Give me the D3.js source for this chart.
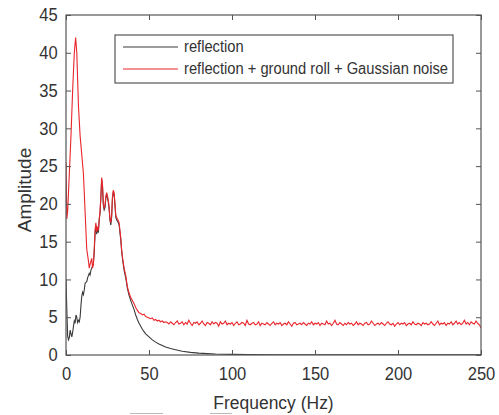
<!DOCTYPE html>
<html>
<head>
<meta charset="utf-8">
<script src="https://cdn.jsdelivr.net/npm/d3@7"></script>
<style>
  html, body { margin: 0; padding: 0; background: #fff; }
  svg { display: block; }
</style>
</head>
<body>
<svg id="chart" width="499" height="415"></svg>
<script>
// ---- data ----
const xTicks = [0, 50, 100, 150, 200, 250];
const yTicks = [0, 5, 10, 15, 20, 25, 30, 35, 40, 45];
const seriesNames = ["reflection", "reflection + ground roll + Gaussian noise"];

// reflection (black) : frequency (Hz) / amplitude
const reflFreq = [0,0.5,1,1.5,2,2.5,3,3.5,4,4.5,5,5.5,6,6.5,7,7.5,8,8.5,9,9.5,10,10.5,11,11.5,12,12.5,13,13.5,14,14.5,15,15.5,16,16.5,
  17,17.5,18,18.5,19,19.5,20,20.5,21,21.5,22,22.5,23,23.5,24,24.5,25,25.5,26,26.5,27,27.5,28,28.5,29,29.5,30,30.5,31,31.5,32,32.5,33,33.5,34,35,36,37,38,39,40,41,42,43,44,45,46,47,48,49,50,52,54,56,58,60,63,66,70,75,80,85,90,100,110,125,150,200,250];
const reflAmp = [10,6,2.5,2.0,2.3,3.3,2.8,2.4,3.0,3.8,4.5,4.2,5.3,5.0,4.3,4.6,4.4,5.0,6.5,7.8,8.3,8.0,8.6,9.5,9.6,9.7,10.2,10.5,10.8,10.6,11.2,11.5,11.8,12.2,
  13.5,16,17.2,16,16.8,16.2,17.8,18.8,20.8,23.2,22.2,19.8,19.2,19.5,20.8,21.3,20.8,20.2,19.2,17.8,17.2,18.2,20.8,21.5,21.2,19.8,18.2,17.9,17.7,17.5,17.2,16.2,15.2,13.8,12.8,11.2,10.2,8.8,7.9,7.2,6.6,6.0,5.3,4.7,4.2,3.8,3.4,3.1,2.8,2.6,2.4,2.0,1.7,1.45,1.25,1.05,0.85,0.7,0.5,0.35,0.25,0.18,0.13,0.08,0.05,0.03,0.02,0.01,0.01];

// noisy (red) low-frequency part : frequency (Hz) / amplitude
const noisyLowFreq = [0,0.5,1,2,3,4,5,5.8,6.5,7.5,8.5,9.5,10.5,11.5,12.5,13.5,14,14.5,15.5,16,16.5,17,17.5,18,18.5,19,19.5,20,20.5,21,21.5,22,22.5,23,23.5,24,24.5,25,25.5,26,26.5,27,27.5,28,28.5,29,29.5,30,30.5,31,31.5,32,32.5,33,33.5,34,35,36,37,38,39,40,41,42,43,44,45,46,47,48,49,50,51,52,53,54,55,56,57,58,59,60];
const noisyLowAmp = [25.5,18,19,24,29,35,40,42,40,33,29,26.5,24,19,14,12.5,11.5,12,12.8,11.5,12,14,16.5,17.5,16.3,17,16.5,18,19,21,23.5,22.5,20,19.5,19.8,21,21.5,21,20.5,19.5,18,17.5,18.5,21,21.8,21.5,20,18.5,18.2,18,17.8,17.5,16.5,15.5,14,13,11.5,10.5,9,8.2,7.6,7.2,6.8,6.3,5.9,5.6,5.5,5.3,5.4,5.1,5.0,4.9,4.8,4.9,4.6,4.7,4.5,4.6,4.4,4.5,4.3,4.4];
// noisy (red) noise floor : amplitudes at 1 Hz steps from 61 to 250 Hz
const noisyFloorStart = 61;
const noisyFloorAmp = [
  4.3,4.1,4.4,4.2,4.0,4.3,4.5,4.1,4.2,4.4,
  4.0,4.3,4.1,4.6,4.2,3.9,4.3,4.2,4.4,4.0,
  4.2,4.5,4.1,3.9,4.3,4.2,4.0,4.4,4.1,4.3,
  4.2,3.8,4.4,4.1,4.2,4.5,4.0,4.2,4.1,4.3,
  3.9,4.2,4.4,4.0,4.1,4.3,4.2,3.9,4.6,4.1,
  4.0,4.2,4.3,4.0,4.1,4.4,3.9,4.2,4.1,4.0,
  4.3,4.1,3.9,4.2,4.4,4.0,4.2,4.1,4.3,3.9,
  4.1,4.2,4.0,4.4,4.1,3.8,4.2,4.3,4.0,4.1,
  4.2,4.0,4.3,4.1,3.9,4.2,4.1,4.4,4.0,4.2,
  4.1,4.3,3.9,4.2,4.1,4.0,4.5,4.1,4.2,3.9,
  4.2,4.6,4.1,4.0,4.3,4.1,3.9,4.2,4.0,4.3,
  4.1,4.2,3.9,4.1,4.4,4.0,4.2,4.1,3.9,4.2,
  4.3,4.0,4.1,4.5,4.2,3.9,4.1,4.2,4.0,4.3,
  4.1,3.9,4.2,4.4,4.1,4.0,4.2,3.8,4.1,4.3,
  4.0,4.2,4.1,4.3,3.9,4.1,4.2,4.0,4.4,4.1,
  4.0,4.2,4.1,3.9,4.3,4.1,4.2,4.0,4.1,4.4,
  4.1,3.9,4.2,4.5,4.0,4.2,4.1,4.3,3.9,4.2,
  4.1,4.4,4.0,4.2,4.5,4.1,4.3,4.0,4.2,4.6,
  4.1,4.3,4.0,4.4,4.2,4.1,4.5,4.2,4.0,3.6
];

// ---- layout ----
const svg = d3.select("#chart");
const L = 66, R = 481, T = 15, B = 355;
const x = d3.scaleLinear().domain([0, 250]).range([L, R]);
const y = d3.scaleLinear().domain([0, 45]).range([B, T]);
const axisColor = "#555";
const textColor = "#333";
const font = "'Liberation Sans', Arial, Helvetica, sans-serif";

const refl = reflFreq.map((f, i) => [f, reflAmp[i]]);
const noisy = noisyLowFreq.map((f, i) => [f, noisyLowAmp[i]])
  .concat(noisyFloorAmp.map((a, i) => [noisyFloorStart + i, a]));

const line = d3.line().x(d => x(d[0])).y(d => y(d[1]));

svg.append("clipPath").attr("id", "clip").append("rect")
  .attr("x", L).attr("y", T).attr("width", R - L).attr("height", B - T);

const plot = svg.append("g").attr("clip-path", "url(#clip)");
plot.append("path").datum(refl).attr("d", line)
  .attr("fill", "none").attr("stroke", "#3a3a3a").attr("stroke-width", 1.1);
plot.append("path").datum(noisy).attr("d", line)
  .attr("fill", "none").attr("stroke", "#e8262c").attr("stroke-width", 1.1);

// axes
function styleAxis(g) {
  g.select(".domain").remove();
  g.selectAll("line").attr("stroke", axisColor);
  g.selectAll("text").attr("fill", textColor).attr("font-family", font).attr("font-size", 18);
}
const xAxis = svg.append("g").attr("transform", `translate(0,${B})`)
  .call(d3.axisBottom(x).tickValues(xTicks).tickSizeInner(-5).tickSizeOuter(0).tickPadding(12).tickFormat(d3.format("d")))
  .call(styleAxis);
xAxis.selectAll("text").attr("transform", "scale(0.92,1)");
svg.append("g").attr("transform", `translate(0,${T})`)
  .call(d3.axisTop(x).tickValues(xTicks).tickSizeInner(-5).tickSizeOuter(0).tickFormat(""))
  .call(styleAxis);
const yAxis = svg.append("g").attr("transform", `translate(${L},0)`)
  .call(d3.axisLeft(y).tickValues(yTicks).tickSizeInner(-5).tickSizeOuter(0).tickPadding(9).tickFormat(d3.format("d")))
  .call(styleAxis);
yAxis.selectAll("text").attr("transform", "scale(0.92,1)");
svg.append("g").attr("transform", `translate(${R},0)`)
  .call(d3.axisRight(y).tickValues(yTicks).tickSizeInner(-5).tickSizeOuter(0).tickFormat(""))
  .call(styleAxis);

// box
svg.append("rect").attr("x", L).attr("y", T).attr("width", R - L).attr("height", B - T)
  .attr("fill", "none").attr("stroke", axisColor).attr("stroke-width", 1.2);

// axis labels
svg.append("text").attr("x", (L + R) / 2 / 0.92).attr("y", 409)
  .attr("transform", "scale(0.92,1)")
  .attr("text-anchor", "middle").attr("font-family", font).attr("font-size", 19).attr("fill", textColor)
  .text("Frequency (Hz)");
svg.append("text").attr("transform", `translate(31,${(T + B) / 2 + 5}) rotate(-90)`)
  .attr("text-anchor", "middle").attr("font-family", font).attr("font-size", 19).attr("fill", textColor)
  .text("Amplitude");

// legend
const lg = svg.append("g");
lg.append("rect").attr("x", 115).attr("y", 35).attr("width", 338).attr("height", 48)
  .attr("fill", "#fff").attr("stroke", axisColor).attr("stroke-width", 1.2);
const legColors = ["#3a3a3a", "#e8262c"];
const legY = [47, 69];
seriesNames.forEach((name, i) => {
  lg.append("line").attr("x1", 123).attr("x2", 178).attr("y1", legY[i]).attr("y2", legY[i])
    .attr("stroke", legColors[i]).attr("stroke-width", 1.1);
  lg.append("text").attr("x", 184 / 0.92).attr("y", legY[i] + 5)
    .attr("transform", "scale(0.92,1)")
    .attr("font-family", font).attr("font-size", 16).attr("fill", textColor)
    .text(name);
});

// faint cropped marks at the bottom edge of the figure
[[130, 163], [210, 232]].forEach(([a, b]) => {
  svg.append("line").attr("x1", a).attr("x2", b).attr("y1", 413.5).attr("y2", 413.5)
    .attr("stroke", "#bbb").attr("stroke-width", 1);
});
</script>
</body>
</html>
